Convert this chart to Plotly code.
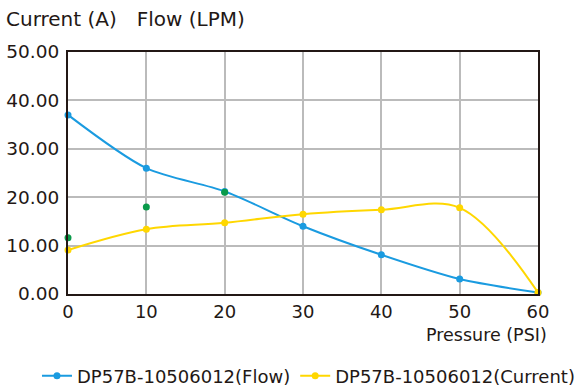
import plotly.graph_objects as go

pressure = [0, 10, 20, 30, 40, 50, 60]
flow = [37.0, 26.0, 21.2, 14.0, 8.1, 3.1, 0.3]
current = [9.1, 13.4, 14.7, 16.5, 17.4, 17.8, 0.3]
extra_x = [0, 10, 20]
extra_y = [11.6, 18.0, 21.0]

font = "DejaVu Sans"
fig = go.Figure()
fig.add_trace(go.Scatter(x=pressure, y=flow, mode="lines+markers", name="DP57B-10506012(Flow)",
                         line=dict(color="#1a9be0", width=2, shape="spline", smoothing=0.8),
                         marker=dict(size=7, color="#1a9be0")))
fig.add_trace(go.Scatter(x=pressure, y=current, mode="lines+markers", name="DP57B-10506012(Current)",
                         line=dict(color="#ffd700", width=2, shape="spline", smoothing=1.0),
                         marker=dict(size=7, color="#ffd700")))
fig.add_trace(go.Scatter(x=extra_x, y=extra_y, mode="markers", showlegend=False,
                         marker=dict(size=7, color="#0a9a4a")))

fig.update_layout(
    width=576, height=389, margin=dict(l=68, r=38, t=52, b=95, autoexpand=False),
    paper_bgcolor="white", plot_bgcolor="white",
    font=dict(family=font, color="#231815", size=18),
    showlegend=True,
    legend=dict(orientation="h", x=-0.066, xanchor="left", y=-0.339, yanchor="middle",
                font=dict(size=18), itemwidth=30, traceorder="normal"),
    xaxis=dict(range=[0, 60], tickvals=pressure, showgrid=True, gridcolor="#bbbbbb", gridwidth=1.5,
               showline=True, linecolor="#231815", linewidth=2, mirror=True, zeroline=False,
               ticks="", tickfont=dict(size=18), automargin=False),
    yaxis=dict(range=[0, 50], tickvals=[0, 10, 20, 30, 40, 50], tickformat=".2f",
               showgrid=True, gridcolor="#bbbbbb", gridwidth=1.5,
               showline=True, linecolor="#231815", linewidth=2, mirror=True, zeroline=False,
               ticks="", tickfont=dict(size=18.5), automargin=False, ticklabelstandoff=3),
    annotations=[
        dict(text="Current (A)\u2003Flow (LPM)", x=0, y=1, xref="paper", yref="paper", xshift=-64, yshift=33,
             xanchor="left", yanchor="middle", showarrow=False, font=dict(size=20)),
        dict(text="Pressure (PSI)", x=1, y=0, xref="paper", yref="paper", xshift=11, yshift=-41,
             xanchor="right", yanchor="middle", showarrow=False, font=dict(size=17.5)),
    ],
)
fig.update_traces(cliponaxis=False)
fig.write_html("out.html", config={"displayModeBar": False},
               post_script="document.body.style.margin='0';document.body.style.padding='0';")
